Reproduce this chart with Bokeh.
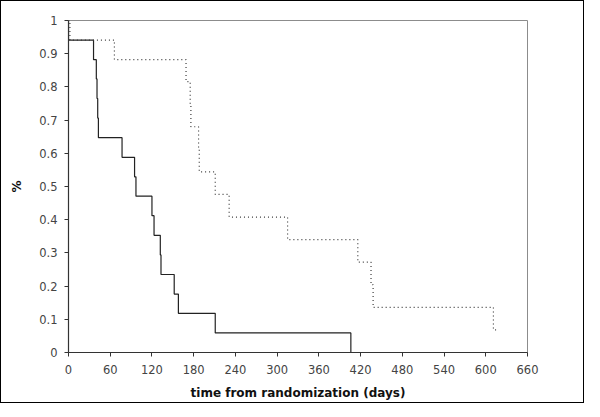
from bokeh.plotting import figure
from bokeh.models import FixedTicker, Range1d
from bokeh.embed import file_html
from bokeh.resources import INLINE

# Kaplan-Meier style step data (time in days, survival proportion after that time)
solid_t = [0, 0, 36, 40, 41, 42, 43, 77, 95, 97, 120, 123, 132, 133, 152, 158, 211, 406]
solid_s = [1.0, 0.941, 0.882, 0.824, 0.765, 0.706, 0.647, 0.588, 0.529, 0.471, 0.412,
           0.353, 0.294, 0.235, 0.176, 0.118, 0.059, 0.0]

dotted_t = [0, 2, 66, 169, 175, 176, 187, 188, 211, 231, 315, 416, 435, 438, 611, 619]
dotted_s = [1.0, 0.941, 0.882, 0.816, 0.748, 0.680, 0.612, 0.544, 0.476, 0.408, 0.340,
            0.272, 0.204, 0.136, 0.068, 0.068]

x_ticks = [0, 60, 120, 180, 240, 300, 360, 420, 480, 540, 600, 660]
y_ticks = [0, 0.1, 0.2, 0.3, 0.4, 0.5, 0.6, 0.7, 0.8, 0.9, 1]
y_tick_labels = {0: "0", 0.1: "0.1", 0.2: "0.2", 0.3: "0.3", 0.4: "0.4", 0.5: "0.5",
                 0.6: "0.6", 0.7: "0.7", 0.8: "0.8", 0.9: "0.9", 1: "1"}

p = figure(frame_width=459, frame_height=332, output_backend="svg", toolbar_location=None,
           x_range=Range1d(0, 660), y_range=Range1d(0, 1),
           min_border_left=67, min_border_right=56, min_border_top=19, min_border_bottom=47)

p.background_fill_color = "white"
p.border_fill_color = "white"
p.outline_line_color = "#8c8c8c"
p.outline_line_width = 1
p.xgrid.visible = False
p.ygrid.visible = False

p.step(solid_t, solid_s, mode="after", line_color="#222222", line_width=1.2)
p.step(dotted_t, dotted_s, mode="after", line_color="#3a3a3a", line_width=1.2,
       line_dash="1 3")

for ax in (p.xaxis[0], p.yaxis[0]):
    ax.axis_line_color = "#333333"
    ax.axis_line_width = 1.2
    ax.major_tick_line_color = "#333333"
    ax.major_tick_out = 4
    ax.major_tick_in = 0
    ax.minor_tick_line_color = None
    ax.major_label_text_font = "DejaVu Sans"
    ax.major_label_text_font_size = "11.5px"
    ax.major_label_text_color = "#444444"
    ax.axis_label_text_font = "DejaVu Sans"
    ax.axis_label_text_font_size = "12px"
    ax.axis_label_text_font_style = "bold"
    ax.axis_label_text_color = "#111111"

p.xaxis[0].ticker = FixedTicker(ticks=x_ticks)
p.yaxis[0].ticker = FixedTicker(ticks=y_ticks)
p.yaxis[0].major_label_overrides = y_tick_labels
p.xaxis[0].axis_label = "time from randomization (days)"
p.yaxis[0].axis_label = "%"
p.xaxis[0].major_label_standoff = 8
p.yaxis[0].major_label_standoff = 7
p.xaxis[0].axis_label_standoff = 9
p.yaxis[0].axis_label_standoff = 12

p.styles = {"border": "1px solid black", "box-sizing": "border-box"}

open("out.html", "w").write(file_html(p, INLINE))
